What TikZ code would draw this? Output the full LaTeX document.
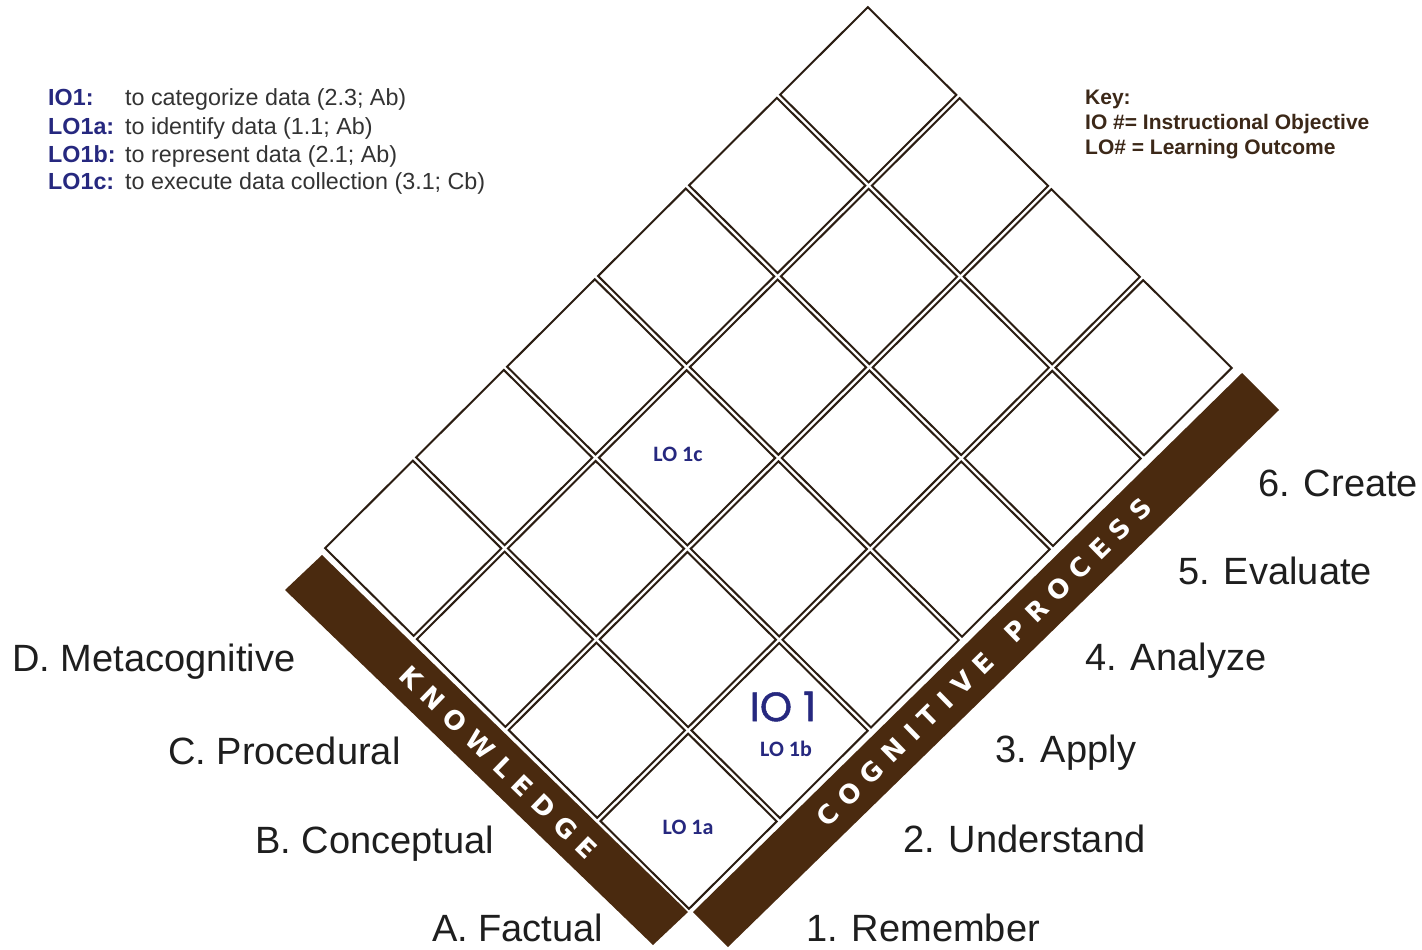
\documentclass[tikz,border=0pt]{standalone}
\usepackage{fontspec}
\setmainfont{Liberation Sans}
\newfontfamily\barfont{DejaVu Sans}
\newfontfamily\cellfont{Carlito}
\newfontfamily\iofont{Poppins}[FakeBold=1.2]
\definecolor{barbrown}{HTML}{4A2A0F}
\definecolor{cellline}{HTML}{2B1D12}
\definecolor{navy}{HTML}{26287F}
\definecolor{labelgray}{HTML}{1E1E1E}
\definecolor{keybrown}{HTML}{3C2818}
\definecolor{legendgray}{HTML}{333333}
\newcommand{\lsp}{\kern9.5pt}
\begin{document}
\begin{tikzpicture}[x=1pt,y=-1pt,
  cellbox/.style={draw=cellline, line width=2pt, line join=miter},
  axislabel/.style={font=\fontsize{38}{40}\selectfont, text=labelgray, anchor=base west, inner sep=0pt},
  barlabel/.style={font=\barfont\bfseries\fontsize{26}{28}\selectfont, text=white, inner sep=0pt},
  celllabel/.style={font=\cellfont\bfseries\fontsize{22}{24}\selectfont, text=navy, inner sep=0pt},
  iolabel/.style={font=\iofont\fontsize{41}{43}\selectfont, text=navy, inner sep=0pt},
  legendlab/.style={font=\bfseries\fontsize{23.3}{25}\selectfont, text=navy, anchor=base west, inner sep=0pt},
  legendtxt/.style={font=\fontsize{23.3}{25}\selectfont, text=legendgray, anchor=base west, inner sep=0pt},
  keytext/.style={font=\bfseries\fontsize{21}{23}\selectfont, text=keybrown, anchor=base west, inner sep=0pt}]
\useasboundingbox (0,0) rectangle (1422,950);
\fill[white] (0,0) rectangle (1422,950);

% bars
\fill[barbrown] (688,912) -- (653,945) -- (285,590) -- (322,555) -- cycle;
\fill[barbrown] (693,912) -- (728,947) -- (1279,410) -- (1242,373) -- cycle;

% grid of cells
\def\ee{0.018}
\begin{scope}[shift={(689,912.1)}, x={(91.0pt,90.7pt)}, y={(-91.8pt,91.0pt)}]
  \foreach \i in {0,...,5}{
    \foreach \j in {0,...,3}{
      \draw[cellbox] ({\i+\ee},{\j+\ee}) -- ({\i+1-\ee},{\j+\ee}) -- ({\i+1-\ee},{\j+1-\ee}) -- ({\i+\ee},{\j+1-\ee}) -- cycle;
    }
  }
\end{scope}

% bar texts
\node[barlabel, rotate=-44.1] (know) at (498.5,762.3) {K\lsp N\lsp O\lsp W\lsp L\lsp E\lsp D\lsp G\lsp E};
\node[barlabel, rotate=44.4] (cog) at (984,662) {C\lsp O\lsp G\lsp N\lsp I\lsp T\lsp I\lsp V\lsp E\kern28pt P\lsp R\lsp O\lsp C\lsp E\lsp S\lsp S};

% cell labels
\node[celllabel] (lo1a) at (688,827) {LO 1a};
\node[iolabel] (io1) at (783,706.5) {IO 1};
\node[celllabel] (lo1b) at (786,749) {LO 1b};
\node[celllabel] (lo1c) at (678,454) {LO 1c};

% knowledge labels
\node[axislabel] (kd) at (12,671) {D. Metacognitive};
\node[axislabel] (kc) at (168,764) {C. Procedural};
\node[axislabel] (kb) at (255,853) {B. Conceptual};
\node[axislabel] (ka) at (432,941) {A. Factual};

% cognitive labels
\node[axislabel] (c1) at (806,941) {1. Remember};
\node[axislabel] (c2) at (903,852) {2. Understand};
\node[axislabel] (c3) at (995,762) {3. Apply};
\node[axislabel] (c4) at (1085,670) {4. Analyze};
\node[axislabel] (c5) at (1178,584) {5. Evaluate};
\node[axislabel] (c6) at (1258,496) {6. Create};

% legend
\node[legendlab] (l1) at (48,106) {IO1:};
\node[legendtxt] (t1) at (125,106) {to categorize data (2.3; Ab)};
\node[legendlab] (l2) at (48,134) {LO1a:};
\node[legendtxt] (t2) at (125,134) {to identify data (1.1; Ab)};
\node[legendlab] (l3) at (48,162) {LO1b:};
\node[legendtxt] (t3) at (125,162) {to represent data (2.1; Ab)};
\node[legendlab] (l4) at (48,189) {LO1c:};
\node[legendtxt] (t4) at (125,189) {to execute data collection (3.1; Cb)};

% key
\node[keytext] (key) at (1085,104) {Key:};
\node[keytext] (keyio) at (1085,129) {IO \#= Instructional Objective};
\node[keytext] (keylo) at (1085,154) {LO\# = Learning Outcome};
\end{tikzpicture}
\end{document}
